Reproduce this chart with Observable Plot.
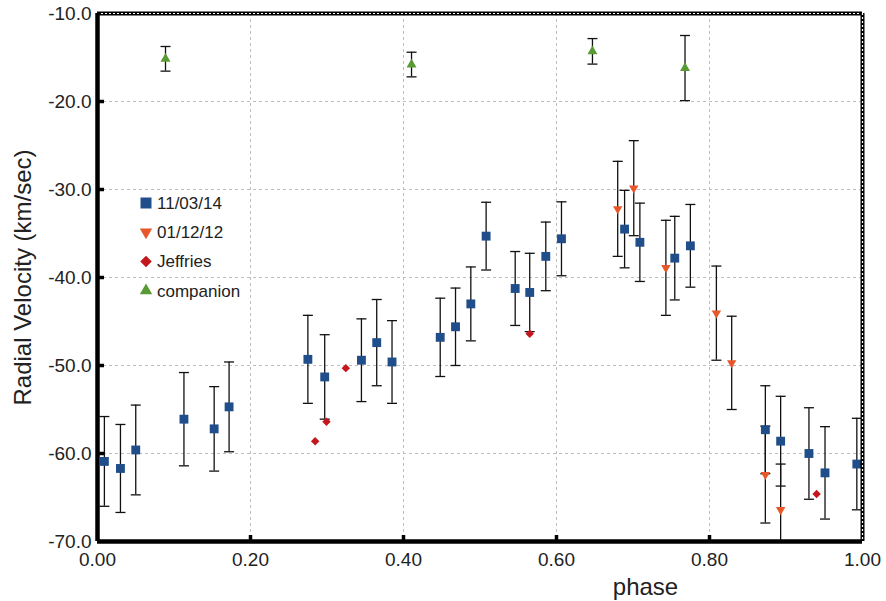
<!DOCTYPE html>
<html>
<head>
<meta charset="utf-8">
<script src="https://cdn.jsdelivr.net/npm/d3@7"></script>
<script src="https://cdn.jsdelivr.net/npm/@observablehq/plot@0.6"></script>
<style>
  html, body { margin: 0; padding: 0; background: #fff; }
</style>
</head>
<body>
<div id="chart"></div>
<script>
// ---- Data ----
const blueX = [0.009, 0.030, 0.050, 0.113, 0.1525, 0.172, 0.275, 0.297, 0.345, 0.365, 0.385, 0.448, 0.468, 0.488, 0.508, 0.546, 0.565, 0.586, 0.6065, 0.689, 0.709, 0.7546, 0.775, 0.873, 0.893, 0.930, 0.951, 0.9926];
const blueV = [-60.9, -61.7, -59.6, -56.1, -57.2, -54.7, -49.3, -51.3, -49.4, -47.4, -49.6, -46.8, -45.6, -43.0, -35.3, -41.25, -41.7, -37.6, -35.6, -34.5, -36.0, -37.8, -36.4, -57.3, -58.6, -60.0, -62.2, -61.2];
const blueErr = [5.1, 5.0, 5.1, 5.3, 4.8, 5.1, 5.0, 4.8, 4.7, 4.9, 4.7, 4.45, 4.4, 4.2, 3.85, 4.2, 4.45, 3.9, 4.2, 4.4, 4.45, 4.75, 4.7, 5.0, 5.1, 5.2, 5.25, 5.2];

const redX = [0.680, 0.701, 0.743, 0.809, 0.829, 0.873, 0.893];
const redV = [-32.2, -29.85, -38.9, -44.05, -49.7, -62.4, -66.4];
const redErr = [5.4, 5.4, 5.4, 5.35, 5.3, 5.5, 5.2];

const jefX = [0.2845, 0.2993, 0.3246, 0.565, 0.940];
const jefV = [-58.6, -56.4, -50.3, -46.4, -64.6];

const compX = [0.0889, 0.4105, 0.647, 0.768];
const compV = [-15.15, -15.8, -14.3, -16.2];
const compErr = [1.4, 1.4, 1.45, 3.7];

const seriesNames = ["11/03/14", "01/12/12", "Jeffries", "companion"];
const xTicks = [0, 0.2, 0.4, 0.6, 0.8, 1.0];
const yTicks = [-10, -20, -30, -40, -50, -60, -70];
const xLabel = "phase";
const yLabel = "Radial Velocity (km/sec)";

// ---- Build tables ----
const toRows = (xs, vs, es) => xs.map((x, i) => ({x, v: vs[i], e: es ? es[i] : 0}));
const blue = toRows(blueX, blueV, blueErr);
const red = toRows(redX, redV, redErr);
const jef = toRows(jefX, jefV);
const comp = toRows(compX, compV, compErr);
const withErr = [...blue, ...red, ...comp];

const colors = {blue: "#1f4e8a", red: "#e8572a", jef: "#c4161c", green: "#5a9a34"};

// custom symbols for error-bar caps and inner ticks
const hline = {draw(ctx, size) { const r = Math.sqrt(size / Math.PI); ctx.moveTo(-r, 0); ctx.lineTo(r, 0); }};
const vline = {draw(ctx, size) { const r = Math.sqrt(size / Math.PI); ctx.moveTo(0, -r); ctx.lineTo(0, r); }};

const legendItems = [
  {name: seriesNames[0], symbol: "square", fill: colors.blue, r: 6.2, rotate: 0},
  {name: seriesNames[1], symbol: "triangle", fill: colors.red, r: 4.6, rotate: 180},
  {name: seriesNames[2], symbol: "diamond2", fill: colors.jef, r: 5.2, rotate: 0},
  {name: seriesNames[3], symbol: "triangle", fill: colors.green, r: 4.6, rotate: 0}
];
const legendMarks = legendItems.flatMap((it, i) => [
  Plot.dot([it], {frameAnchor: "top-left", dx: 48.5, dy: 189.5 + i * 29.2, symbol: it.symbol, r: it.r, fill: it.fill, rotate: it.rotate}),
  Plot.text([it], {frameAnchor: "top-left", dx: 59.5, dy: 190 + i * 29.2, text: "name", textAnchor: "start", lineAnchor: "middle", fontSize: 17, fill: "#222"})
]);

const chart = Plot.plot({
  width: 886,
  height: 601,
  marginLeft: 97,
  marginRight: 24,
  marginTop: 13,
  marginBottom: 60,
  style: {fontFamily: "'Liberation Sans', Arial, sans-serif", background: "#fff", color: "#222"},
  x: {domain: [0, 1]},
  y: {domain: [-70, -10]},
  marks: [
    Plot.gridX([0.2, 0.4, 0.6, 0.8], {stroke: "#bdbdbd", strokeOpacity: 1, strokeDasharray: "3,3"}),
    Plot.gridY([-20, -30, -40, -50, -60], {stroke: "#bdbdbd", strokeOpacity: 1, strokeDasharray: "3,3"}),
    Plot.axisX({ticks: xTicks, tickFormat: d => d.toFixed(2), tickSize: 0, tickPadding: 11, fontSize: 19, label: null}),
    Plot.axisY({ticks: yTicks, tickFormat: d => d.toFixed(1), tickSize: 0, tickPadding: 6, fontSize: 19, label: null}),
    // error bars
    Plot.ruleX(withErr, {x: "x", y1: d => d.v - d.e, y2: d => d.v + d.e, stroke: "#111", strokeWidth: 1.3, clip: true}),
    Plot.dot(withErr, {x: "x", y: d => d.v + d.e, symbol: hline, r: 5, stroke: "#111", strokeWidth: 1.3, fill: "none", clip: true}),
    Plot.dot(withErr, {x: "x", y: d => d.v - d.e, symbol: hline, r: 5, stroke: "#111", strokeWidth: 1.3, fill: "none", clip: true}),
    // markers
    Plot.dot(blue, {x: "x", y: "v", symbol: "square", r: 5, fill: colors.blue}),
    Plot.dot(red, {x: "x", y: "v", symbol: "triangle", r: 3.5, rotate: 180, fill: colors.red}),
    Plot.dot(jef, {x: "x", y: "v", symbol: "diamond2", r: 3.8, fill: colors.jef}),
    Plot.dot(comp, {x: "x", y: "v", symbol: "triangle", r: 3.7, fill: colors.green}),
    // frame
    Plot.ruleY([-10], {stroke: "#000", strokeWidth: 4}),
    Plot.ruleY([-10], {stroke: "#fff", strokeWidth: 1.2, strokeDasharray: "2,2"}),
    Plot.ruleX([1], {stroke: "#000", strokeWidth: 4}),
    Plot.ruleX([1], {stroke: "#fff", strokeWidth: 1.2, strokeDasharray: "2,2"}),
    Plot.ruleX([0], {stroke: "#000", strokeWidth: 4.5}),
    Plot.ruleY([-70], {stroke: "#000", strokeWidth: 4.5}),
    // inner ticks
    Plot.dot([0.2, 0.4, 0.6, 0.8], {x: d => d, frameAnchor: "bottom", dy: -3, symbol: vline, r: 3.5, stroke: "#000", strokeWidth: 3.5}),
    Plot.dot([-20, -30, -40, -50, -60], {y: d => d, frameAnchor: "left", dx: 3, symbol: hline, r: 3.5, stroke: "#000", strokeWidth: 3.5}),
    // axis titles
    Plot.text([yLabel], {frameAnchor: "left", dx: -74, rotate: -90, text: d => d, textAnchor: "middle", lineAnchor: "middle", fontSize: 24, fill: "#222"}),
    Plot.text([xLabel], {frameAnchor: "bottom", dx: 165.5, dy: 45.5, text: d => d, textAnchor: "middle", lineAnchor: "middle", fontSize: 24, fill: "#222"}),
    ...legendMarks
  ]
});
document.getElementById("chart").appendChild(chart);
</script>
</body>
</html>
